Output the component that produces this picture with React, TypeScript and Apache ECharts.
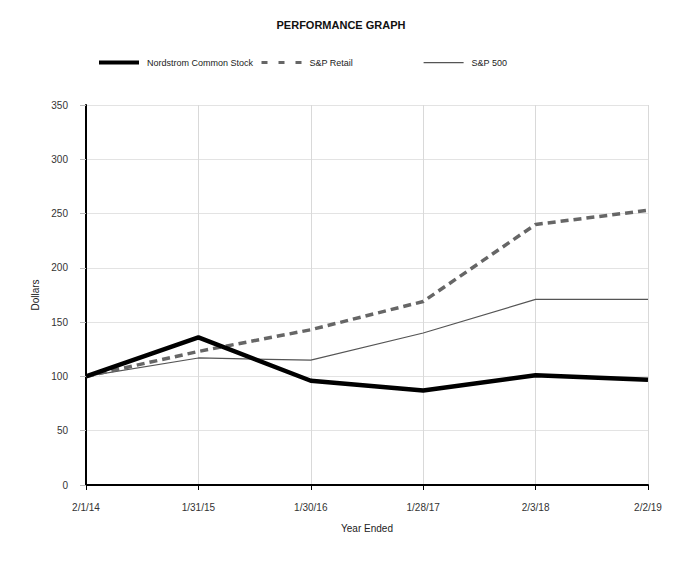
import React, { useEffect, useRef } from "react";
import * as echarts from "echarts";

const categories = ["2/1/14", "1/31/15", "1/30/16", "1/28/17", "2/3/18", "2/2/19"];
const nordstrom = [100, 136, 96, 87, 101, 97];
const spRetail = [100, 123, 143, 169, 240, 253];
const sp500 = [100, 117, 115, 140, 171, 171];
const yTicks = { min: 0, max: 350, interval: 50 };

const FONT = "'Liberation Sans', Arial, sans-serif";

export default function App() {
  const ref = useRef<HTMLDivElement>(null);
  useEffect(() => {
    document.body.style.margin = "0";
    if (!ref.current) return;
    const chart = echarts.init(ref.current, undefined, { renderer: "svg" });
    const legendBase = {
      top: 52,
      itemWidth: 40,
      itemHeight: 14,
      itemGap: 10,
      itemStyle: { opacity: 0 },
      textStyle: { fontFamily: FONT, fontSize: 9, color: "#222", padding: [0, 0, 0, 3] },
      selectedMode: false,
    };
    chart.setOption({
      animation: false,
      backgroundColor: "#fff",
      textStyle: { fontFamily: FONT },
      title: {
        text: "PERFORMANCE GRAPH",
        left: "center",
        top: 14,
        textStyle: { fontFamily: FONT, fontSize: 11, fontWeight: "bold", color: "#111" },
      },
      legend: [
        { ...legendBase, left: 92, data: ["Nordstrom Common Stock"], lineStyle: { width: 4, color: "#000", type: "solid" } },
        { ...legendBase, left: 255, data: ["S&P Retail"], lineStyle: { width: 3, color: "#666", type: [6, 11] } },
        { ...legendBase, left: 418, data: ["S&P 500"], lineStyle: { width: 1.2, color: "#555", type: "solid" } },
      ],
      grid: { left: 86, right: 34, top: 105, bottom: 80, containLabel: false },
      xAxis: {
        type: "category",
        data: categories,
        boundaryGap: false,
        name: "Year Ended",
        nameLocation: "middle",
        nameGap: 38,
        nameTextStyle: { fontFamily: FONT, fontSize: 10, color: "#222" },
        axisLine: { lineStyle: { color: "#000", width: 2 } },
        axisTick: { show: true, length: 5, lineStyle: { color: "#000", width: 1 } },
        axisLabel: { margin: 17, fontFamily: FONT, fontSize: 10, color: "#333" },
        splitLine: { show: true, lineStyle: { color: "#d9d9d9", width: 1 } },
      },
      yAxis: {
        type: "value",
        min: yTicks.min,
        max: yTicks.max,
        interval: yTicks.interval,
        name: "Dollars",
        nameLocation: "middle",
        nameGap: 42,
        nameTextStyle: { fontFamily: FONT, fontSize: 10, color: "#222" },
        axisLine: { show: true, lineStyle: { color: "#000", width: 2 } },
        axisTick: { show: true, length: 6, lineStyle: { color: "#bbb", width: 1 } },
        axisLabel: { margin: 18, fontFamily: FONT, fontSize: 10, color: "#333" },
        splitLine: { show: true, lineStyle: { color: "#e3e3e3", width: 1 } },
      },
      series: [
        {
          name: "S&P 500",
          type: "line",
          data: sp500,
          symbol: "none",
          z: 2,
          lineStyle: { color: "#555", width: 1.2 },
          itemStyle: { color: "#555" },
        },
        {
          name: "S&P Retail",
          type: "line",
          data: spRetail,
          symbol: "none",
          z: 3,
          lineStyle: { color: "#666", width: 3.5, type: [8, 5] },
          itemStyle: { color: "#666" },
        },
        {
          name: "Nordstrom Common Stock",
          type: "line",
          data: nordstrom,
          symbol: "none",
          z: 4,
          lineStyle: { color: "#000", width: 4.5 },
          itemStyle: { color: "#000" },
        },
      ],
    });
    return () => chart.dispose();
  }, []);
  return <div ref={ref} style={{ width: 682, height: 565 }} />;
}
